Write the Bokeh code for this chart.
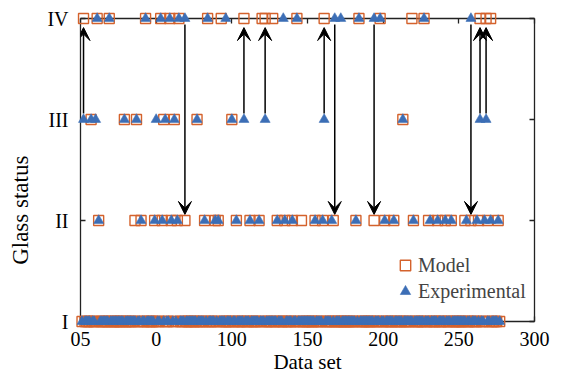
from bokeh.plotting import figure
from bokeh.models import (LinearAxis, FixedTicker, Arrow, VeeHead, Legend,
                          LegendItem, Range1d, ColumnDataSource)
from bokeh.embed import file_html
from bokeh.resources import INLINE

# ---------------- data ----------------
n_sets = 277                       # data sets numbered 1..277
level_ticks = [1, 2, 3, 4]
level_labels = ["I", "II", "III", "IV"]
x_ticks = [0, 50, 100, 150, 200, 250, 300]
x_tick_labels = ["05", "0", "100", "150", "200", "250", "300"]
x_title = "Data set"
y_title = "Glass status"

# Model (predicted) glass status: data-set indices that are not status I
model_IV = [2, 11, 19, 43, 53, 59, 65, 84, 93, 108, 120, 122, 127, 143, 161,
            184, 198, 219, 227, 264, 268, 271]
model_III = [7, 29, 37, 55, 62, 77, 100, 213]
model_II = [12, 36, 40, 49, 54, 60, 64, 69, 82, 89, 91, 103, 112, 118, 130,
            135, 140, 146, 155, 160, 167, 182, 194, 201, 207, 220, 230, 236,
            241, 245, 254, 258, 263, 269, 276]

# Experimental glass status: data-set indices that are not status I
exp_IV = [11, 19, 43, 53, 59, 65, 69, 84, 96, 134, 143, 168, 172, 184, 194,
          198, 227, 258]
exp_III = [2, 7, 10, 29, 37, 50, 56, 62, 77, 100, 108, 122, 161, 213, 264, 268]
exp_II = [12, 40, 49, 54, 60, 64, 82, 89, 91, 103, 112, 118, 130, 135, 140,
          155, 160, 166, 182, 201, 207, 220, 231, 236, 241, 245, 255, 262, 267,
          271, 276]

# status changes marked with arrows (from experimental to model)
arrow_x = [2, 69, 108, 122, 161, 168, 194, 258, 264, 268]
arrow_from = [3, 4, 3, 3, 3, 4, 4, 4, 3, 3]
arrow_to = [4, 2, 4, 4, 4, 2, 2, 2, 4, 4]

ORANGE = "#D4622C"
BLUE = "#3C6EB6"
FONT = "Liberation Serif"
NBSP = "\u00a0"


def series_points(by_level):
    used = set()
    xs, ys = [], []
    for lvl, idx in by_level:
        xs += idx
        ys += [lvl] * len(idx)
        used |= set(idx)
    rest = [i for i in range(1, n_sets + 1) if i not in used]
    return rest + xs, [1] * len(rest) + ys


mx, my = series_points([(4, model_IV), (3, model_III), (2, model_II)])
ex, ey = series_points([(4, exp_IV), (3, exp_III), (2, exp_II)])

# ---------------- figure ----------------
p = figure(width=563, height=376, x_range=Range1d(0, 300), y_range=Range1d(1, 4),
           output_backend="svg", toolbar_location=None,
           min_border_left=80, min_border_right=29, min_border_top=18,
           min_border_bottom=54)
p.outline_line_color = None
p.grid.visible = False
p.background_fill_color = "white"
p.border_fill_color = "white"

xa = p.xaxis[0]
ya = p.yaxis[0]
xa.ticker = FixedTicker(ticks=x_ticks)
xa.major_label_overrides = {t: l for t, l in zip(x_ticks, x_tick_labels)}
ya.ticker = FixedTicker(ticks=level_ticks)
ya.major_label_overrides = {t: l for t, l in zip(level_ticks, level_labels)}
xa.axis_label = x_title
# trailing no-break spaces shift the rotated title downwards, as in the reference
ya.axis_label = y_title + NBSP * 14

top = LinearAxis(ticker=FixedTicker(ticks=x_ticks))
right = LinearAxis(ticker=FixedTicker(ticks=level_ticks))
p.add_layout(top, "above")
p.add_layout(right, "right")

for ax in (xa, ya, top, right):
    ax.major_tick_in = 5
    ax.major_tick_out = 0
    ax.minor_tick_in = 0
    ax.minor_tick_out = 0
    ax.axis_line_width = 1.3
    ax.axis_line_color = "#222222"
    ax.major_tick_line_color = "#222222"
    ax.major_tick_line_width = 1.3
    ax.major_label_text_font = FONT
    ax.major_label_text_font_size = "20px"
    ax.major_label_text_color = "black"
    ax.axis_label_text_font = FONT
    ax.axis_label_text_font_style = "normal"
    ax.axis_label_text_color = "black"

for ax in (top, right):
    ax.major_label_text_font_size = "1px"
    ax.major_label_text_color = None
    ax.major_label_standoff = 0

xa.axis_label_text_font_size = "21px"
ya.axis_label_text_font_size = "23px"
xa.major_label_standoff = 10
xa.axis_label_standoff = 1
ya.major_label_standoff = 12
ya.axis_label_standoff = 11

# arrows
for x, f, t in zip(arrow_x, arrow_from, arrow_to):
    up = t > f
    y0 = f + (0.06 if up else -0.06)
    y1 = t - (0.09 if up else -0.06)
    p.add_layout(Arrow(end=VeeHead(size=13, fill_color="black", line_color="black",
                                   line_width=1),
                       x_start=x, y_start=y0, x_end=x, y_end=y1,
                       line_width=1.5, line_color="black"))

msrc = ColumnDataSource(dict(x=mx, y=my))
esrc = ColumnDataSource(dict(x=ex, y=ey))
r_model = p.scatter("x", "y", source=msrc, marker="square", size=10,
                    fill_color=None, line_color=ORANGE, line_width=1.4,
                    level="overlay")
r_exp = p.scatter("x", "y", source=esrc, marker="triangle", size=10,
                  fill_color=BLUE, line_color=BLUE, line_width=0.6,
                  level="overlay")

legend = Legend(items=[LegendItem(label="Model", renderers=[r_model]),
                       LegendItem(label="Experimental", renderers=[r_exp])],
                location=(312, 17), background_fill_alpha=0,
                border_line_color=None, padding=0, margin=0, spacing=-4,
                glyph_width=26, glyph_height=26, label_height=26,
                label_standoff=0, label_text_font=FONT,
                label_text_font_size="20px")
p.add_layout(legend)

open("out.html", "w").write(file_html(p, INLINE))
